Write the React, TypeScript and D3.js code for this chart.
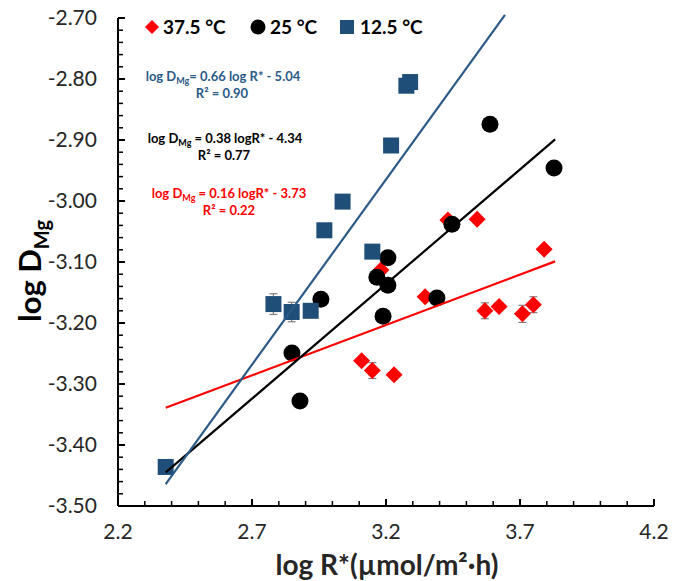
import React from "react";
import * as d3 from "d3";

// ---- Data ----
const redX = [3.109, 3.149, 3.230, 3.346, 3.569, 3.622, 3.709, 3.750, 3.431, 3.540, 3.790, 3.181];
const redY = [-3.262, -3.278, -3.285, -3.157, -3.180, -3.173, -3.185, -3.170, -3.031, -3.030, -3.079, -3.113];
const redErr = [0, 0.013, 0, 0, 0.013, 0, 0.014, 0.013, 0, 0, 0, 0];

const blackX = [2.849, 2.879, 2.957, 3.166, 3.207, 3.207, 3.189, 3.390, 3.446, 3.588, 3.827];
const blackY = [-3.249, -3.328, -3.161, -3.125, -3.093, -3.138, -3.189, -3.159, -3.038, -2.874, -2.946];

const blueX = [2.378, 2.780, 2.848, 2.919, 2.970, 3.038, 3.149, 3.219, 3.276, 3.290];
const blueY = [-3.436, -3.169, -3.182, -3.180, -3.048, -3.001, -3.083, -2.909, -2.811, -2.805];
const blueErr = [0, 0.017, 0.016, 0, 0, 0, 0, 0, 0, 0];

// trendline endpoints [x0, y0, x1, y1]
const blueTrend = [2.378, -3.464, 3.644, -2.695];
const blackTrend = [2.378, -3.445, 3.831, -2.899];
const redTrend = [2.378, -3.339, 3.831, -3.099];

const xMajor = [2.2, 2.7, 3.2, 3.7, 4.2];
const yMajor = [-2.7, -2.8, -2.9, -3.0, -3.1, -3.2, -3.3, -3.4, -3.5];

const legendLabels = ["37.5 °C", "25 °C", "12.5 °C"];

const RED = "#FF0000";
const BLUE = "#1F4E79";
const BLUE_LINE = "#2B5A87";
const FONT = "Lato, 'Open Sans', sans-serif";

export default function App() {
  const x = d3.scaleLinear().domain([2.2, 4.2]).range([118, 654]);
  const y = d3.scaleLinear().domain([-3.5, -2.7]).range([506, 18]);

  const xMinor = d3.range(0, 21).map((i) => 2.2 + i * 0.1);
  const yMinor = d3.range(0, 41).map((i) => -3.5 + i * 0.02);

  const diamondPath = (cx: number, cy: number, s: number) =>
    `M${cx},${cy - s}L${cx + s},${cy}L${cx},${cy + s}L${cx - s},${cy}Z`;

  const errBar = (cx: number, v: number, e: number, key: string) => {
    if (!e) return null;
    const y0 = y(v - e), y1 = y(v + e);
    return (
      <g key={key} stroke="#7f7f7f" strokeWidth={1.2}>
        <line x1={cx} x2={cx} y1={y0} y2={y1} />
        <line x1={cx - 4} x2={cx + 4} y1={y0} y2={y0} />
        <line x1={cx - 4} x2={cx + 4} y1={y1} y2={y1} />
      </g>
    );
  };

  const trend = (t: number[], color: string) => (
    <line x1={x(t[0])} y1={y(t[1])} x2={x(t[2])} y2={y(t[3])} stroke={color} strokeWidth={2.2} />
  );

  return (
    <svg width={680} height={581} style={{ position: "absolute", left: 0, top: 0, background: "#fff" }} fontFamily={FONT}>
      {/* axes */}
      <g stroke="#000">
        <line x1={x(2.2)} x2={x(2.2)} y1={y(-2.7)} y2={y(-3.5)} strokeWidth={2} />
        <line x1={x(2.2)} x2={x(4.2)} y1={y(-3.5)} y2={y(-3.5)} strokeWidth={2} />
        {yMinor.map((v, i) => (
          <line key={"ym" + i} x1={x(2.2)} x2={x(2.2) + (i % 5 === 0 ? 7 : 5)} y1={y(v)} y2={y(v)} strokeWidth={i % 5 === 0 ? 2 : 1.5} />
        ))}
        {xMinor.map((v, i) => (
          <line key={"xm" + i} x1={x(v)} x2={x(v)} y1={y(-3.5)} y2={y(-3.5) - (i % 5 === 0 ? 7 : 5)} strokeWidth={i % 5 === 0 ? 2 : 1.5} />
        ))}
      </g>
      {/* tick labels */}
      <g fontSize={21} fill="#262626">
        {yMajor.map((v) => (
          <text key={"yl" + v} x={97} y={y(v)} dy="0.35em" textAnchor="end">
            {v.toFixed(2)}
          </text>
        ))}
        {xMajor.map((v) => (
          <text key={"xl" + v} x={x(v)} y={539} textAnchor="middle">
            {v.toFixed(1)}
          </text>
        ))}
      </g>
      {/* axis titles */}
      <text x={387} y={575} textAnchor="middle" fontSize={28} fontWeight="bold" fill="#262626">
        log R*(µmol/m²·h)
      </text>
      <text transform="translate(41,271) rotate(-90)" textAnchor="middle" fontSize={31} fontWeight="bold" fill="#000">
        log D<tspan fontSize={20} dy={8}>Mg</tspan>
      </text>

      {/* error bars */}
      {redX.map((v, i) => errBar(x(v), redY[i], redErr[i], "re" + i))}
      {blueX.map((v, i) => errBar(x(v), blueY[i], blueErr[i], "be" + i))}

      {/* markers */}
      {redX.map((v, i) => (
        <path key={"r" + i} d={diamondPath(x(v), y(redY[i]), 8.5)} fill={RED} />
      ))}
      {blackX.map((v, i) => (
        <circle key={"k" + i} cx={x(v)} cy={y(blackY[i])} r={8.5} fill="#000" />
      ))}
      {blueX.map((v, i) => (
        <rect key={"b" + i} x={x(v) - 8} y={y(blueY[i]) - 8} width={16} height={16} fill={BLUE} />
      ))}

      {/* trendlines */}
      {trend(redTrend, RED)}
      {trend(blackTrend, "#000")}
      {trend(blueTrend, BLUE_LINE)}

      {/* legend */}
      <g fontSize={19} fontWeight="bold" fill="#000">
        <path d={diamondPath(152, 27, 7)} fill={RED} />
        <text x={163} y={34}>{legendLabels[0]}</text>
        <circle cx={258} cy={27} r={7.5} fill="#000" />
        <text x={270} y={34}>{legendLabels[1]}</text>
        <rect x={340} y={20} width={14} height={14} fill={BLUE} />
        <text x={360} y={34}>{legendLabels[2]}</text>
      </g>

      {/* equations */}
      <g fontSize={13} fontWeight="bold" textAnchor="middle">
        <text x={223} y={81} fill={BLUE_LINE}>
          log D<tspan fontSize={9} dy={3}>Mg</tspan><tspan dy={-3}>= 0.66 log R* - 5.04</tspan>
        </text>
        <text x={222} y={98} fill={BLUE_LINE}>R² = 0.90</text>
        <text x={225} y={143} fill="#000">
          log D<tspan fontSize={9} dy={3}>Mg</tspan><tspan dy={-3}> = 0.38 logR* - 4.34</tspan>
        </text>
        <text x={224} y={160} fill="#000">R² = 0.77</text>
        <text x={229} y={198} fill={RED}>
          log D<tspan fontSize={9} dy={3}>Mg</tspan><tspan dy={-3}>  = 0.16 logR* - 3.73</tspan>
        </text>
        <text x={229} y={215} fill={RED}>R² = 0.22</text>
      </g>
    </svg>
  );
}
